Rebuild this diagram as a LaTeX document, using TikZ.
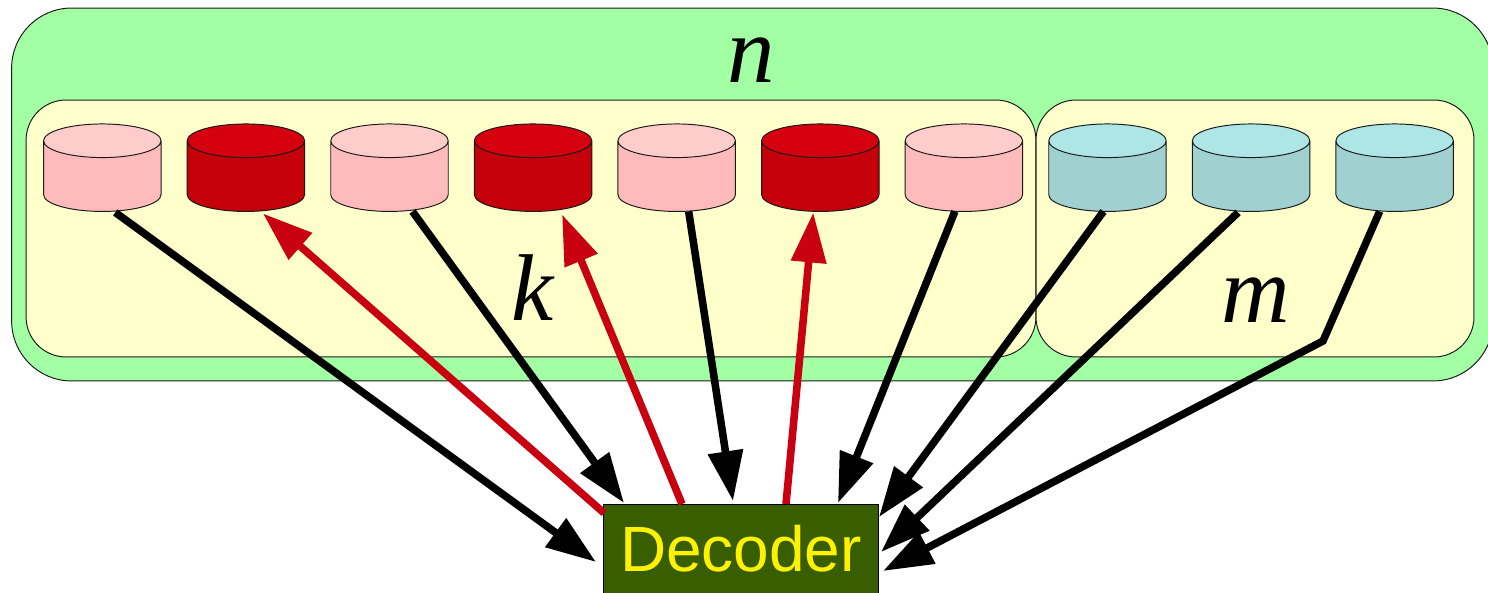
\documentclass[tikz,border=0pt]{standalone}
\usepackage{fontspec}
\setmainfont{Liberation Serif}
\setsansfont{Liberation Sans}
\usepackage{tikz}
\usetikzlibrary{arrows.meta, positioning, shapes.geometric}
\definecolor{outergreen}{HTML}{A3FFA3}
\definecolor{groupyellow}{HTML}{FFFFCC}
\definecolor{pinktop}{HTML}{FFCCCC}
\definecolor{pinkbody}{HTML}{FFBBBB}
\definecolor{redtop}{HTML}{D4000F}
\definecolor{redbody}{HTML}{C4000B}
\definecolor{tealtop}{HTML}{AEE5E5}
\definecolor{tealbody}{HTML}{A0D0D0}
\definecolor{decgreen}{HTML}{385E00}
\definecolor{linkred}{HTML}{C8000F}

\begin{document}
\begin{tikzpicture}[
  x=0.02cm, y=-0.02cm,
  node distance=0.522cm,
  panel/.style={draw=black!90, line width=0.55pt, rectangle, outer sep=0pt},
  disk/.style={draw=black!90, line width=0.55pt, cylinder, shape border rotate=90, aspect=2.87,
    minimum width=2.35cm, minimum height=1.75cm, outer sep=0pt, cylinder uses custom fill},
  okdisk/.style={disk, cylinder end fill=pinktop, cylinder body fill=pinkbody},
  lostdisk/.style={disk, cylinder end fill=redtop, cylinder body fill=redbody},
  paritydisk/.style={disk, cylinder end fill=tealtop, cylinder body fill=tealbody},
  letter/.style={font=\fontsize{54pt}{54pt}\selectfont\itshape},
  readlink/.style={line width=4.3pt, -{Triangle[length=1cm,width=0.68cm]}},
  lostlink/.style={readlink, linkred}
]
  \useasboundingbox (0,0) rectangle (1488,592);

  \node[panel, fill=outergreen, rounded corners=1.2cm, minimum width=29.63cm, minimum height=7.46cm] (all) at (752.25,194.5) {};
  \node[panel, fill=groupyellow, rounded corners=0.8cm, minimum width=20.2cm, minimum height=5.14cm] (data) at (531,228.5) {};
  \node[panel, fill=groupyellow, rounded corners=0.8cm, minimum width=8.76cm, minimum height=5.14cm] (parity) at (1255,228.5) {};

  \node[letter] (n) at (751,60) {n};
  \node[letter] (k) at (533,288) {k};
  \node[letter] (m) at (1256,300) {m};

  \node[okdisk] (d1) at (102.3,180) {};
  \node[lostdisk, right=of d1] (d2) {};
  \node[okdisk, right=of d2] (d3) {};
  \node[lostdisk, right=of d3] (d4) {};
  \node[okdisk, right=of d4] (d5) {};
  \node[lostdisk, right=of d5] (d6) {};
  \node[okdisk, right=of d6] (d7) {};
  \node[paritydisk, right=of d7] (d8) {};
  \node[paritydisk, right=of d8] (d9) {};
  \node[paritydisk, right=of d9] (d10) {};

  \node[draw=black, line width=0.55pt, fill=decgreen, text=yellow, rectangle, outer sep=0pt,
    minimum width=5.52cm, minimum height=1.8cm, font=\fontsize{36.4pt}{36.4pt}\selectfont\sffamily] (dec) at (741,549) {Decoder};

  \coordinate (t1) at (596,562);
  \coordinate (t3) at (624,503);
  \coordinate (t5) at (733,501);
  \coordinate (t7) at (838,503);
  \coordinate (t8) at (879,517);
  \coordinate (t9) at (881,552);
  \coordinate (t10) at (883,571);
  \coordinate (bend) at (1323,341);

  \draw[readlink] ([shift={(13,1)}]d1.south) -- (t1);
  \draw[lostlink] ([shift={(1,9)}]dec.north west) -- ([shift={(17,2)}]d2.south);
  \draw[readlink] ([shift={(23,0)}]d3.south) -- (t3);
  \draw[lostlink] ([shift={(-59,0)}]dec.north) -- ([shift={(29,3)}]d4.south);
  \draw[readlink] ([shift={(12,0)}]d5.south) -- (t5);
  \draw[lostlink] ([shift={(45,0)}]dec.north) -- ([shift={(-7,1)}]d6.south);
  \draw[readlink] ([shift={(-9,0)}]d7.south) -- (t7);
  \draw[readlink] ([shift={(-4,0)}]d8.south) -- (t8);
  \draw[readlink] ([shift={(-13,1)}]d9.south) -- (t9);
  \draw[readlink] ([shift={(-15,0)}]d10.south) -- (bend) -- (t10);
\end{tikzpicture}
\end{document}
